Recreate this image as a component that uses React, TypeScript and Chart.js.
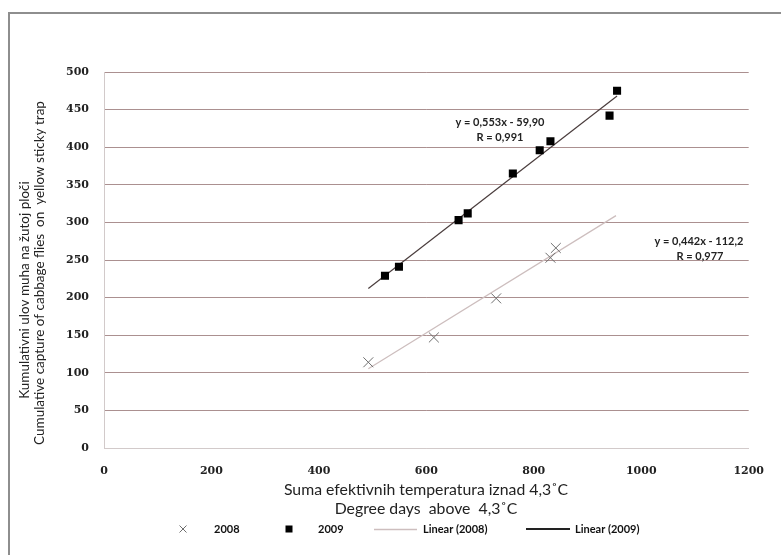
import React, { useEffect, useRef } from "react";
import { Chart, registerables } from "chart.js";

Chart.register(...registerables);

// ---- data ----
const x2008 = [492, 614, 730, 831, 841];
const y2008 = [114, 147, 199, 253, 266];
const x2009 = [523, 549, 660, 677, 761, 811, 831, 941, 955];
const y2009 = [229, 241, 303, 312, 365, 396, 408, 442, 475];
const trendX2008 = [492, 953];
const trendY2008 = [105.3, 309.0];
const trendX2009 = [492, 955];
const trendY2009 = [212.2, 468.2];

const xTickValues = [0, 200, 400, 600, 800, 1000, 1200];
const yTickValues = [0, 50, 100, 150, 200, 250, 300, 350, 400, 450, 500];

const seriesNames = ["2008", "2009", "Linear (2008)", "Linear (2009)"];
const eq2008 = ["y = 0,442x - 112,2", "R = 0,977"];
const eq2009 = ["y = 0,553x - 59,90", "R = 0,991"];
const xTitle = ["Suma efektivnih temperatura iznad 4,3˚C", "Degree days  above  4,3˚C"];
const yTitle = [
  "Kumulativni ulov muha na žutoj ploči",
  "Cumulative capture of cabbage flies  on  yellow sticky trap",
];

const C_CROSS = "#6e6e6e";
const C_SQUARE = "#000000";
const C_LIN08 = "#cdbebe";
const C_LIN09 = "#4a3d3d";
const C_GRID = "#ab9090";
const C_AXIS = "#d2caca";

const SANS = "Lato, 'Liberation Sans', sans-serif";

const textPlugin = {
  id: "textPlugin",
  afterDraw(chart: any) {
    const ctx = chart.ctx as CanvasRenderingContext2D;
    ctx.save();
    ctx.fillStyle = "#222";
    ctx.textAlign = "center";
    ctx.textBaseline = "middle";

    // x title
    ctx.font = `15.8px ${SANS}`;
    ctx.fillText(xTitle[0], 426, 490);
    ctx.fillText(xTitle[1], 426, 509);

    // y title
    ctx.font = `13.5px ${SANS}`;
    ctx.save();
    ctx.translate(25, 290);
    ctx.rotate(-Math.PI / 2);
    ctx.fillText(yTitle[0], 0, 0);
    ctx.restore();
    ctx.save();
    ctx.translate(40, 273);
    ctx.rotate(-Math.PI / 2);
    ctx.fillText(yTitle[1], 0, 0);
    ctx.restore();

    // equations
    ctx.font = `bold 11px ${SANS}`;
    ctx.fillText(eq2009[0], 500, 122);
    ctx.fillText(eq2009[1], 500, 137);
    ctx.fillText(eq2008[0], 699, 241);
    ctx.fillText(eq2008[1], 700, 256);

    // legend
    const ly = 529;
    ctx.textAlign = "left";
    ctx.fillStyle = "#111";
    ctx.font = `bold 11px ${SANS}`;
    // 2008 marker
    ctx.strokeStyle = C_CROSS;
    ctx.lineWidth = 1;
    ctx.beginPath();
    ctx.moveTo(183 - 3.5, ly - 3.5);
    ctx.lineTo(183 + 3.5, ly + 3.5);
    ctx.moveTo(183 + 3.5, ly - 3.5);
    ctx.lineTo(183 - 3.5, ly + 3.5);
    ctx.stroke();
    ctx.fillText(seriesNames[0], 214, ly);
    // 2009 marker
    ctx.fillStyle = C_SQUARE;
    ctx.fillRect(289 - 3.5, ly - 3.5, 7, 7);
    ctx.fillStyle = "#111";
    ctx.fillText(seriesNames[1], 318, ly);
    // linear 2008
    ctx.strokeStyle = C_LIN08;
    ctx.lineWidth = 1.5;
    ctx.beginPath();
    ctx.moveTo(374, ly + 0.5);
    ctx.lineTo(417, ly + 0.5);
    ctx.stroke();
    ctx.fillText(seriesNames[2], 423, ly);
    // linear 2009
    ctx.strokeStyle = "#222";
    ctx.lineWidth = 2;
    ctx.beginPath();
    ctx.moveTo(526, ly);
    ctx.lineTo(570, ly);
    ctx.stroke();
    ctx.fillText(seriesNames[3], 575, ly);
    ctx.restore();
  },
};

export default function App() {
  const ref = useRef<HTMLCanvasElement | null>(null);

  useEffect(() => {
    if (!ref.current) return;
    const chart = new Chart(ref.current, {
      type: "scatter",
      data: {
        datasets: [
          {
            label: seriesNames[0],
            data: x2008.map((x, i) => ({ x, y: y2008[i] })),
            pointStyle: "crossRot",
            pointRadius: 7,
            pointBorderWidth: 1,
            borderColor: C_CROSS,
            backgroundColor: C_CROSS,
            showLine: false,
          },
          {
            label: seriesNames[1],
            data: x2009.map((x, i) => ({ x, y: y2009[i] })),
            pointStyle: "rect",
            pointRadius: 5.7,
            pointBorderWidth: 0,
            borderColor: C_SQUARE,
            backgroundColor: C_SQUARE,
            showLine: false,
          },
          {
            label: seriesNames[2],
            data: trendX2008.map((x, i) => ({ x, y: trendY2008[i] })),
            showLine: true,
            pointRadius: 0,
            borderColor: C_LIN08,
            borderWidth: 1.2,
          },
          {
            label: seriesNames[3],
            data: trendX2009.map((x, i) => ({ x, y: trendY2009[i] })),
            showLine: true,
            pointRadius: 0,
            borderColor: C_LIN09,
            borderWidth: 1.2,
          },
        ],
      },
      options: {
        animation: false,
        responsive: false,
        devicePixelRatio: 1,
        layout: { padding: { left: 0, top: 72, right: 28, bottom: 0 } },
        plugins: {
          legend: { display: false },
          tooltip: { enabled: false },
        },
        scales: {
          x: {
            type: "linear",
            min: 0,
            max: 1200,
            afterBuildTicks: (s: any) => {
              s.ticks = xTickValues.map((v) => ({ value: v }));
            },
            afterFit: (s: any) => {
              s.height = 555 - 448;
            },
            grid: { display: false, drawTicks: false },
            border: { display: true, color: C_AXIS, width: 1 },
            ticks: {
              padding: 17,
              color: "#222",
              callback: (v: any) => String(v),
              font: { family: "'DejaVu Serif', serif", weight: "bold", size: 11 },
            },
          },
          y: {
            type: "linear",
            min: 0,
            max: 500,
            afterBuildTicks: (s: any) => {
              s.ticks = yTickValues.map((v) => ({ value: v }));
            },
            afterFit: (s: any) => {
              s.width = 104;
            },
            grid: {
              drawTicks: false,
              color: (c: any) => (c.tick && c.tick.value === 0 ? C_AXIS : C_GRID),
              lineWidth: 1,
            },
            border: { display: true, color: C_AXIS, width: 1 },
            ticks: {
              padding: 15,
              color: "#222",
              callback: (v: any) => String(v),
              font: { family: "'DejaVu Serif', serif", weight: "bold", size: 11 },
            },
          },
        },
      },
      plugins: [textPlugin],
    } as any);
    return () => chart.destroy();
  }, []);

  return (
    <div style={{ position: "fixed", left: 0, top: 0, width: 781, height: 555, background: "#fff" }}>
      <div
        style={{
          position: "absolute",
          left: 8,
          top: 12,
          right: 0,
          bottom: 0,
          borderTop: "2px solid #8e8e8e",
          borderLeft: "2px solid #8e8e8e",
          background: "#fff",
        }}
      />
      <canvas
        ref={ref}
        width={781}
        height={555}
        style={{ position: "absolute", left: 0, top: 0, width: 781, height: 555 }}
      />
    </div>
  );
}
